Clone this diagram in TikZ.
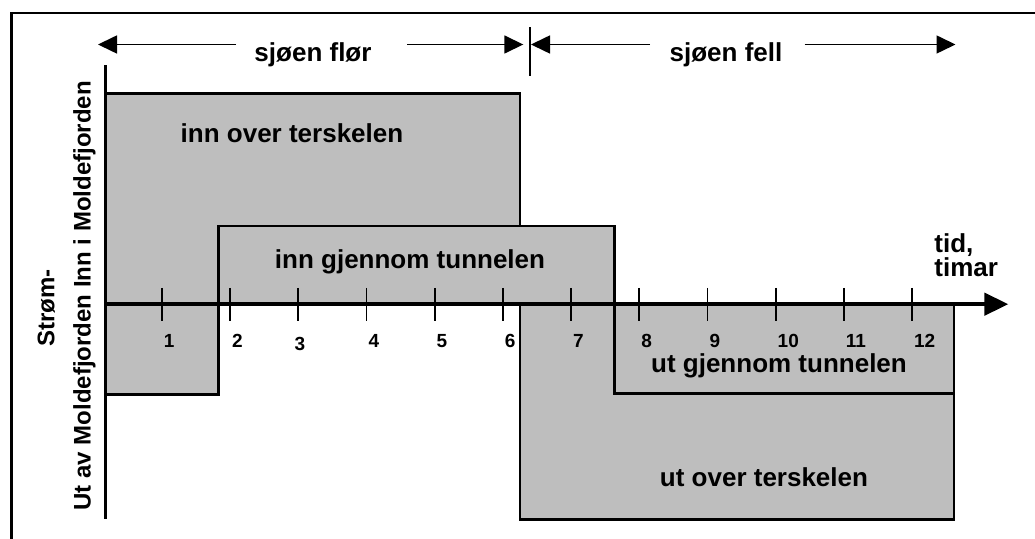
\documentclass[tikz,border=0pt]{standalone}
\usepackage{fontspec}
\setmainfont{Liberation Sans}
\usetikzlibrary{arrows.meta}
\definecolor{shade}{RGB}{190,190,190}
\begin{document}
\begin{tikzpicture}[x=0.5pt,y=-0.5pt,
  flowbox/.style={draw=black,line width=1.3pt,fill=shade},
  hourtick/.style={line width=0.9pt},
  span/.style={line width=0.8pt,-{Triangle[length=9.5pt,width=9pt]}},
  lbl/.style={inner sep=0pt,anchor=base,font=\fontsize{13}{15}\selectfont\bfseries},
  axlbl/.style={inner sep=0pt,anchor=base,rotate=90,font=\fontsize{12}{14}\selectfont\bfseries},
  hour/.style={inner sep=0pt,anchor=base west,font=\fontsize{9.5}{11}\selectfont\bfseries}]
\useasboundingbox (0,0) rectangle (1035,539);
\draw[line width=1.4pt] (11.5,539) -- (11.5,13) -- (1035,13);

\draw[flowbox] (105.7,93.7) rectangle (520,304);
\draw[flowbox] (218.7,226.2) rectangle (614.3,304);
\draw[flowbox] (105.7,304) rectangle (218.7,394.7);
\draw[flowbox] (519.8,304) rectangle (953.8,519.7);
\draw[flowbox] (614.3,304) rectangle (953.8,393.5);

\draw[line width=1.3pt] (105.7,65.4) -- (105.7,519);
\draw[line width=2.2pt,-{Triangle[length=12pt,width=11pt]}] (105,304.2) -- (1008.4,304.2);

\draw[hourtick] (161.8,288) -- (161.8,321);
\draw[hourtick] (230.0,288) -- (230.0,321);
\draw[hourtick] (298.2,288) -- (298.2,321);
\draw[hourtick] (366.4,288) -- (366.4,321);
\draw[hourtick] (434.6,288) -- (434.6,321);
\draw[hourtick] (502.8,288) -- (502.8,321);
\draw[hourtick] (571.0,288) -- (571.0,321);
\draw[hourtick] (639.2,288) -- (639.2,321);
\draw[hourtick] (707.4,288) -- (707.4,321);
\draw[hourtick] (775.6,288) -- (775.6,321);
\draw[hourtick] (843.8,288) -- (843.8,321);
\draw[hourtick] (912.0,288) -- (912.0,321);

\node[hour] (h1) at (163.5,348) {1};
\node[hour] (h2) at (231.7,348) {2};
\node[hour] (h3) at (294.3,350.5) {3};
\node[hour] (h4) at (368.1,348) {4};
\node[hour] (h5) at (436.3,348) {5};
\node[hour] (h6) at (504.5,348) {6};
\node[hour] (h7) at (572.7,348) {7};
\node[hour] (h8) at (640.9,348) {8};
\node[hour] (h9) at (709.1,348) {9};
\node[hour] (h10) at (777.3,348) {10};
\node[hour] (h11) at (845.5,348) {11};
\node[hour] (h12) at (913.7,348) {12};

\coordinate (florL) at (98,44.5);
\coordinate (florA) at (236,44.5);
\coordinate (florB) at (407,44.5);
\coordinate (florR) at (523.3,44.5);
\coordinate (fellL) at (531,44.5);
\coordinate (fellA) at (650,44.5);
\coordinate (fellB) at (804.7,44.5);
\coordinate (fellR) at (955.5,44.5);
\draw[span] (florA) -- (florL);
\draw[span] (florB) -- (florR);
\draw[span] (fellA) -- (fellL);
\draw[span] (fellB) -- (fellR);
\draw[line width=0.9pt] (530,27.3) -- (530,76);

\node[lbl] (flor) at (313,62) {sjøen flør};
\node[lbl] (fell) at (726,61.4) {sjøen fell};

\node[lbl] (innover) at (292,142.2) {inn over terskelen};
\node[lbl] (inntunnel) at (410,268.3) {inn gjennom tunnelen};
\node[lbl] (uttunnel) at (779,373) {ut gjennom tunnelen};
\node[lbl] (utover) at (764,486.6) {ut over terskelen};

\node[lbl,anchor=base west] (tid) at (934,253) {tid,};
\node[lbl,anchor=base west] (timar) at (934,277) {timar};

\node[axlbl] (strom) at (54.3,308.3) {Strøm-};
\node[axlbl] (fjord) at (90.7,295.8) {Ut av Moldefjorden Inn i Moldefjorden};
\end{tikzpicture}
\end{document}
